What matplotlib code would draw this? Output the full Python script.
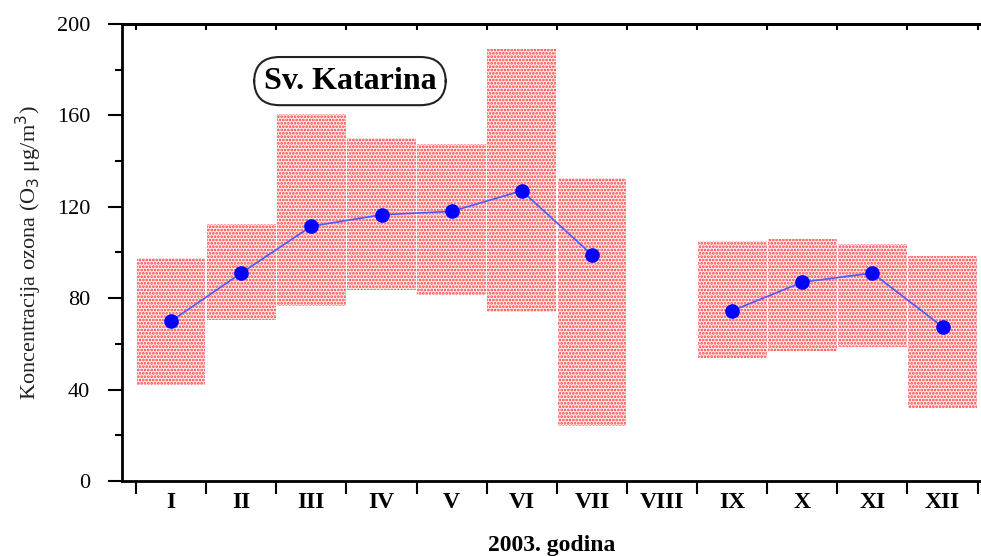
import numpy as np
import matplotlib.pyplot as plt

plt.rcParams['font.family'] = ['Liberation Serif', 'DejaVu Serif']
plt.rcParams['hatch.linewidth'] = 1.3

# mjesecni podaci, O3 ug/m3 (VIII nema mjerenja)
months = ['I', 'II', 'III', 'IV', 'V', 'VI', 'VII', 'VIII', 'IX', 'X', 'XI', 'XII']
mean_o3 = [70, 91, 111.5, 116.5, 118, 127, 99, np.nan, 74.5, 87, 91, 67.5]
min_o3 = [42, 70.5, 76.5, 83.5, 81.5, 74, 24, np.nan, 54, 57, 58.5, 32]
max_o3 = [97.5, 112.5, 160.5, 150, 147.5, 189, 132.5, np.nan, 105, 106, 103.5, 98.5]

x = np.arange(len(months)) + 0.5
lo = np.array(min_o3)
hi = np.array(max_o3)

fig = plt.figure(figsize=(9.81, 5.56), dpi=100)
ax = fig.add_axes([0.1244, 0.1349, 0.875, 0.822])

ax.bar(x, hi - lo, bottom=lo, width=0.98, color='#fff0f0', edgecolor='#ff3a3a',
       linewidth=0, hatch='.....', zorder=1)
ax.plot(x, mean_o3, '-', color='#4a5cff', lw=1.2, zorder=2)
ax.plot(x, mean_o3, 'o', color='#0000ff', ms=9.5, zorder=3)

ax.set_xlim(-0.2, 12.04)
ax.set_ylim(0, 200)
ax.set_yticks([0, 40, 80, 120, 160, 200])
ax.set_yticks([20, 60, 100, 140, 180], minor=True)
ax.set_xticks(np.arange(13))
ax.set_xticklabels([])
ax.set_xticks(x, minor=True)
ax.set_xticklabels(months, minor=True, fontweight='bold', fontsize=17)

ax.tick_params(axis='y', which='major', direction='out', length=10, width=1.5,
               labelsize=16, pad=13)
ax.tick_params(axis='y', which='minor', direction='out', length=5, width=1.5)
ax.tick_params(axis='x', which='major', direction='out', length=9, width=1.5)
ax.tick_params(axis='x', which='minor', length=0, pad=8)

# male crtice s unutarnje strane gornjeg ruba
top = ax.secondary_xaxis('top')
top.set_xticks(np.arange(13))
top.set_xticklabels([])
top.tick_params(direction='in', length=4, width=1.5)
top.spines['top'].set_linewidth(2)

for s in ['left', 'bottom', 'top']:
    ax.spines[s].set_linewidth(2)
ax.spines['right'].set_visible(False)

ax.set_ylabel('Koncentracija ozona (O$_3$ μg/m$^3$)', fontsize=16, color='#222222',
              labelpad=9)
ax.set_xlabel('2003. godina', fontweight='bold', fontsize=17, labelpad=16)

ax.text(3.05, 175, 'Sv. Katarina', fontsize=23, fontweight='bold', ha='center',
        va='center', zorder=4,
        bbox=dict(boxstyle='round,pad=0.3,rounding_size=0.8', fc='white',
                  ec='#222222', lw=1.5))

fig.savefig('out.png', dpi=100)
